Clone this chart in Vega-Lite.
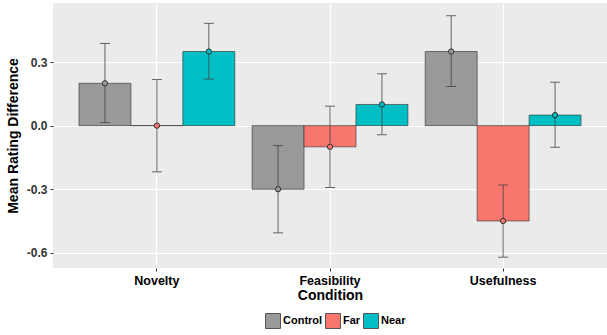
{
  "$schema": "https://vega.github.io/schema/vega-lite/v6.json",
  "width": 554,
  "height": 265,
  "autosize": "none",
  "padding": {"left": 53, "top": 3, "right": 0, "bottom": 67},
  "background": "white",
  "config": {
    "view": {"fill": "#EBEBEB", "stroke": null},
    "font": "Liberation Sans"
  },
  "data": {
    "values": [
      {"measure": "Novelty", "group": "Control", "mean": 0.2, "lo": 0.015, "hi": 0.388},
      {"measure": "Novelty", "group": "Far", "mean": 0.0, "lo": -0.218, "hi": 0.218},
      {"measure": "Novelty", "group": "Near", "mean": 0.35, "lo": 0.22, "hi": 0.483},
      {"measure": "Feasibility", "group": "Control", "mean": -0.3, "lo": -0.506, "hi": -0.094},
      {"measure": "Feasibility", "group": "Far", "mean": -0.1, "lo": -0.292, "hi": 0.092},
      {"measure": "Feasibility", "group": "Near", "mean": 0.1, "lo": -0.043, "hi": 0.245},
      {"measure": "Usefulness", "group": "Control", "mean": 0.35, "lo": 0.185, "hi": 0.519},
      {"measure": "Usefulness", "group": "Far", "mean": -0.45, "lo": -0.621, "hi": -0.28},
      {"measure": "Usefulness", "group": "Near", "mean": 0.05, "lo": -0.102, "hi": 0.205}
    ]
  },
  "encoding": {
    "x": {
      "field": "measure", "type": "nominal",
      "sort": ["Novelty", "Feasibility", "Usefulness"],
      "scale": {"paddingInner": 0.1, "paddingOuter": 0.15},
      "axis": {
        "title": "Condition", "titleFont": "Liberation Sans", "titleFontSize": 14, "titleFontWeight": "bold", "titleColor": "black", "titlePadding": 2,
        "labelAngle": 0, "labelFontSize": 12.5, "labelFontWeight": "bold", "labelColor": "black", "labelPadding": 3,
        "grid": true, "gridColor": "white", "gridWidth": 1.1, "bandPosition": 0.5,
        "domain": false, "tickColor": "#333333", "tickSize": 3, "tickBand": "center"
      }
    },
    "xOffset": {"field": "group", "type": "nominal", "sort": ["Control", "Far", "Near"]},
    "color": {
      "field": "group", "type": "nominal",
      "scale": {"domain": ["Control", "Far", "Near"], "range": ["#999999", "#F8766D", "#00BFC4"]},
      "legend": {
        "title": null, "orient": "none", "legendX": 212, "legendY": 310, "direction": "horizontal", "gridAlign": "none",
        "symbolType": "square", "symbolSize": 225, "symbolStrokeColor": "#555555", "symbolStrokeWidth": 1, "symbolOpacity": 1,
        "labelFontSize": 11, "labelFontWeight": "bold", "labelColor": "black", "columnPadding": 0, "labelOffset": 2
      }
    }
  },
  "layer": [
    {
      "mark": {"type": "bar", "stroke": "#333333", "strokeOpacity": 0.8, "strokeWidth": 0.8, "opacity": 1},
      "encoding": {
        "y": {
          "field": "mean", "type": "quantitative",
          "scale": {"domain": [-0.672, 0.579], "nice": false, "zero": false},
          "axis": {
            "title": "Mean Rating Difference", "titleFontSize": 14, "titleFontWeight": "bold", "titleColor": "black", "titlePadding": 6,
            "values": [-0.6, -0.45, -0.3, -0.15, 0, 0.15, 0.3, 0.45],
            "labelExpr": "indexof([-0.6, -0.3, 0, 0.3], datum.value) >= 0 ? replace(format(datum.value, '.1f'), '\u2212', '-') : ''",
            "labelFontSize": 12, "labelFontWeight": "bold", "labelColor": "#333333", "labelPadding": 3,
            "grid": true, "gridColor": "white",
            "gridWidth": {"condition": {"test": "indexof([-0.6, -0.3, 0, 0.3], datum.value) >= 0", "value": 1.1}, "value": 0.5},
            "tickSize": {"condition": {"test": "indexof([-0.6, -0.3, 0, 0.3], datum.value) >= 0", "value": 3}, "value": 0},
            "tickColor": "#333333", "domain": false
          }
        }
      }
    },
    {
      "mark": {"type": "rule", "color": "#444444", "strokeWidth": 1, "opacity": 0.8},
      "encoding": {
        "y": {"field": "lo", "type": "quantitative"},
        "y2": {"field": "hi"},
        "color": {"value": "#444444"}
      }
    },
    {
      "mark": {"type": "tick", "color": "#444444", "thickness": 1, "size": 10, "opacity": 0.8},
      "encoding": {"y": {"field": "lo", "type": "quantitative"}, "color": {"value": "#444444"}}
    },
    {
      "mark": {"type": "tick", "color": "#444444", "thickness": 1, "size": 10, "opacity": 0.8},
      "encoding": {"y": {"field": "hi", "type": "quantitative"}, "color": {"value": "#444444"}}
    },
    {
      "mark": {"type": "point", "filled": true, "size": 28, "stroke": "#333333", "strokeWidth": 1, "opacity": 1},
      "encoding": {
        "y": {"field": "mean", "type": "quantitative"},
        "fill": {"field": "group", "type": "nominal", "scale": {"domain": ["Control", "Far", "Near"], "range": ["#999999", "#F8766D", "#00BFC4"]}, "legend": null}
      }
    }
  ]
}
